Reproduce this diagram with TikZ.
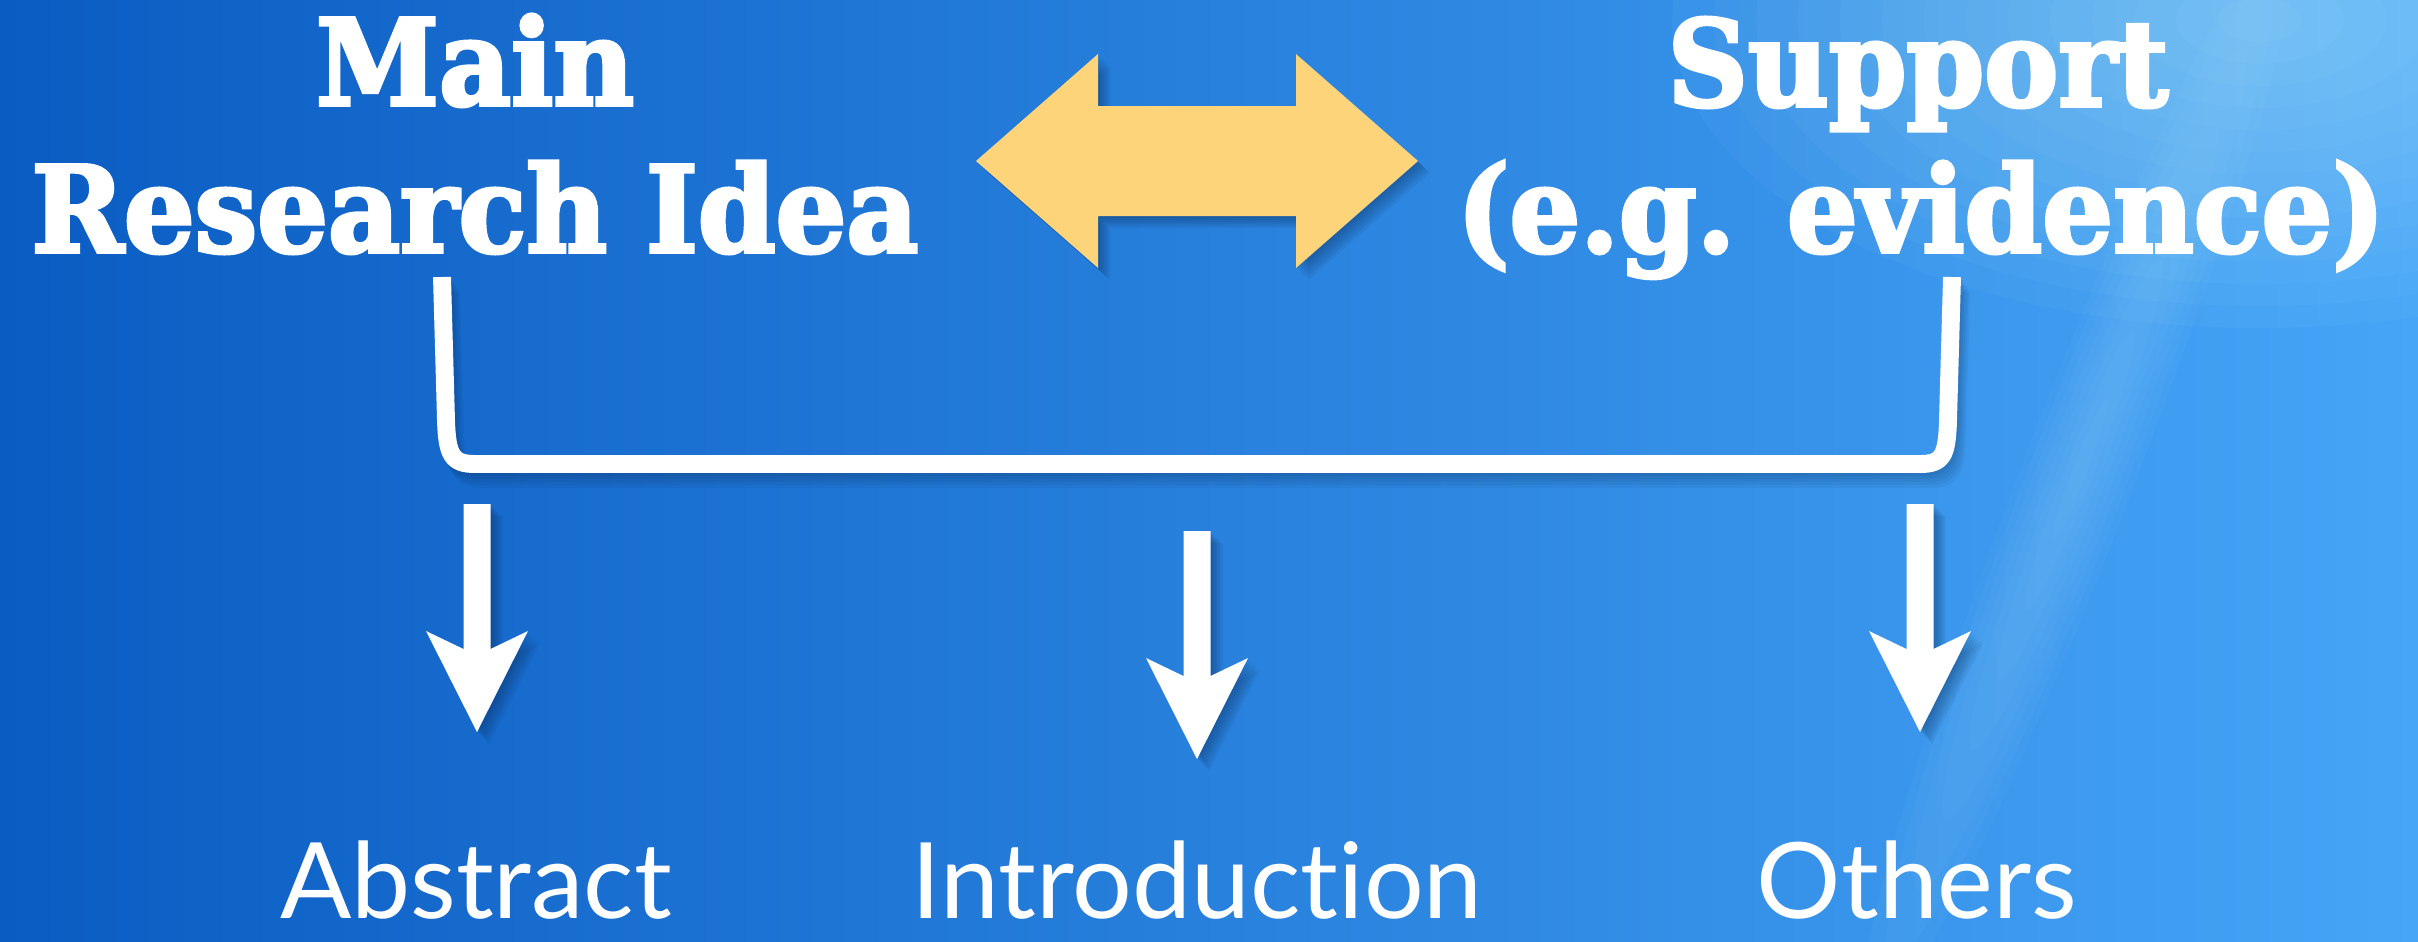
\documentclass[tikz,border=0pt]{standalone}
\usepackage{fontspec}
\newfontfamily\titlefont{DejaVu Serif}[BoldFeatures={FakeBold=3}, FakeStretch=0.93]
\newfontfamily\labelfont{Lato}[Ligatures={NoCommon}]
\definecolor{bgL}{HTML}{0A5CC2}
\definecolor{bgR}{HTML}{46A5F7}
\definecolor{arrowyellow}{HTML}{FED47B}
\definecolor{glow}{HTML}{B8ECFF}
\definecolor{shadowc}{HTML}{0A2448}
\tikzset{
  title/.style={text=white, font=\titlefont\bfseries\fontsize{34}{40}\selectfont, anchor=base, inner sep=0pt},
  lbl/.style={text=white, font=\labelfont\fontsize{30}{36}\selectfont, anchor=base, inner sep=0pt, text depth=0pt},
  shapeshadow/.style={fill=shadowc, opacity=0.07},
  bracketline/.style={draw=white, line width=5.1pt, line join=round},
  downarr/.pic={
    \foreach \d in {2,4,...,12} {
      \fill[shapeshadow, shift={(\d,\d)}] (-13.5,0) -- (13.5,0) -- (13.5,145) -- (51,127) -- (0,228) -- (-51,127) -- (-13.5,145) -- cycle;
    }
    \fill[white] (-13.5,0) -- (13.5,0) -- (13.5,145) -- (51,127) -- (0,228) -- (-51,127) -- (-13.5,145) -- cycle;
  }
}
\begin{document}
\begin{tikzpicture}[x=0.01cm,y=-0.01cm]
\useasboundingbox (0,0) rectangle (2418,941);
% background
\shade[left color=bgL, right color=bgR] (0,0) rectangle (2418,941);
\foreach \r in {1,...,14} {
  \fill[glow, opacity=0.045] (2260,20) ellipse ({42*\r} and {22*\r});
}
\begin{scope}[shift={(2080,470)}, rotate=69]
  \foreach \r in {1,...,8} {
    \fill[glow, opacity=0.035] (0,0) ellipse ({75*\r} and {7*\r});
  }
\end{scope}

% titles
\node[title] (main1) at (475,105) {Main};
\node[title] (main2) at (475,252) {Research Idea};
\node[title] (sup1) at (1918,106) {Support};
\node[title] (sup2) at (1921,252) {(e.g. evidence)};

% double arrow
\foreach \d in {2,4,...,12} {
  \fill[shapeshadow, shift={(\d,\d)}] (976,161) -- (1098,54) -- (1098,106) -- (1296,106) -- (1296,54) -- (1418,161) -- (1296,268) -- (1296,216) -- (1098,216) -- (1098,268) -- cycle;
}
\fill[arrowyellow] (976,161) -- (1098,54) -- (1098,106) -- (1296,106) -- (1296,54) -- (1418,161) -- (1296,268) -- (1296,216) -- (1098,216) -- (1098,268) -- cycle;

% bracket
\foreach \d in {3,6,...,15} {
  \draw[bracketline, draw=shadowc, opacity=0.06, shift={(\d*0.6,\d)}] (442,277) -- (446,420) .. controls (447,455) and (452,464) .. (475,464) -- (1920,464) .. controls (1943,464) and (1947,455) .. (1948,420) -- (1952,277);
}
\draw[bracketline] (442,277) -- (446,420) .. controls (447,455) and (452,464) .. (475,464) -- (1920,464) .. controls (1943,464) and (1947,455) .. (1948,420) -- (1952,277);

% down arrows
\coordinate (arrA) at (477,504);
\coordinate (arrI) at (1197,531);
\coordinate (arrO) at (1920,504);
\pic at (arrA) {downarr};
\pic at (arrI) {downarr};
\pic at (arrO) {downarr};

% labels
\node[lbl] (abs) at (476,918) {Abstract};
\node[lbl] (intro) at (1197,918) {Introduction};
\node[lbl] (oth) at (1917,918) {Others};
\end{tikzpicture}
\end{document}
